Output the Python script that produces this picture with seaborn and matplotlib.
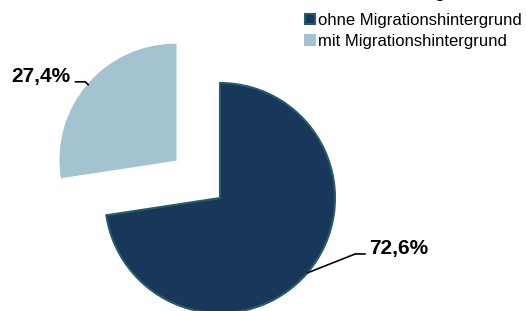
import numpy as np
import seaborn as sns
import matplotlib.pyplot as plt

# Daten
labels = ["ohne Migrationshintergrund", "mit Migrationshintergrund"]
anteile = [72.6, 27.4]
farben = ["#18375a", "#a3c3d1"]
kanten = ["#255c6a", "#a3c3d1"]
explode = [0, 0.51]  # Anteil des Radius

sns.set_style('white')
plt.rcParams['font.family'] = ['Liberation Sans', 'DejaVu Sans']
plt.rcParams['text.color'] = 'black'

fig = plt.figure(figsize=(5.26, 3.11), dpi=100)
ax = fig.add_axes([0, 0, 1, 1])

center = (220, 113)
radius = 115
wedges, _ = ax.pie(anteile, colors=farben, explode=[e * radius for e in explode],
                   startangle=90, counterclock=False, center=center, radius=radius,
                   frame=True, wedgeprops=dict(linewidth=1.5))
for w, k in zip(wedges, kanten):
    w.set_edgecolor(k)
ax.set_xlim(0, 526)
ax.set_ylim(0, 311)
ax.set_aspect('equal')
ax.axis('off')

# Beschriftungen mit Führungslinien
offsets = [(48, 19), (-3, 3)]
for w, wert, off in zip(wedges, anteile, offsets):
    mitte = np.deg2rad((w.theta1 + w.theta2) / 2)
    cx, cy = w.center
    px = cx + w.r * np.cos(mitte)
    py = cy + w.r * np.sin(mitte)
    ex, ey = px + off[0], py + off[1]
    sx = 10 if off[0] > 0 else -10
    ax.plot([px, ex, ex + sx], [py, ey, ey], color='black', lw=1.2)
    txt = f"{wert:.1f}%".replace('.', ',')
    ha = 'left' if off[0] > 0 else 'right'
    ax.text(ex + sx + (4 if off[0] > 0 else -5), ey + 5, txt, ha=ha, va='center',
            fontsize=15, fontweight='bold')

# Legende
leg = ax.legend(wedges, labels, loc='upper left', bbox_to_anchor=(305 / 526, 1 - 13 / 311),
                frameon=False, fontsize=12, handlelength=0.6, handleheight=0.6,
                handletextpad=0.2, labelspacing=0.35, borderaxespad=0, borderpad=0)

# abgeschnittener Titel
ax.text(408, 313, "Einwohner insgesamt", ha='center', va='baseline', fontsize=12,
        fontweight='bold', clip_on=False)

fig.savefig('out.png', dpi=100)
